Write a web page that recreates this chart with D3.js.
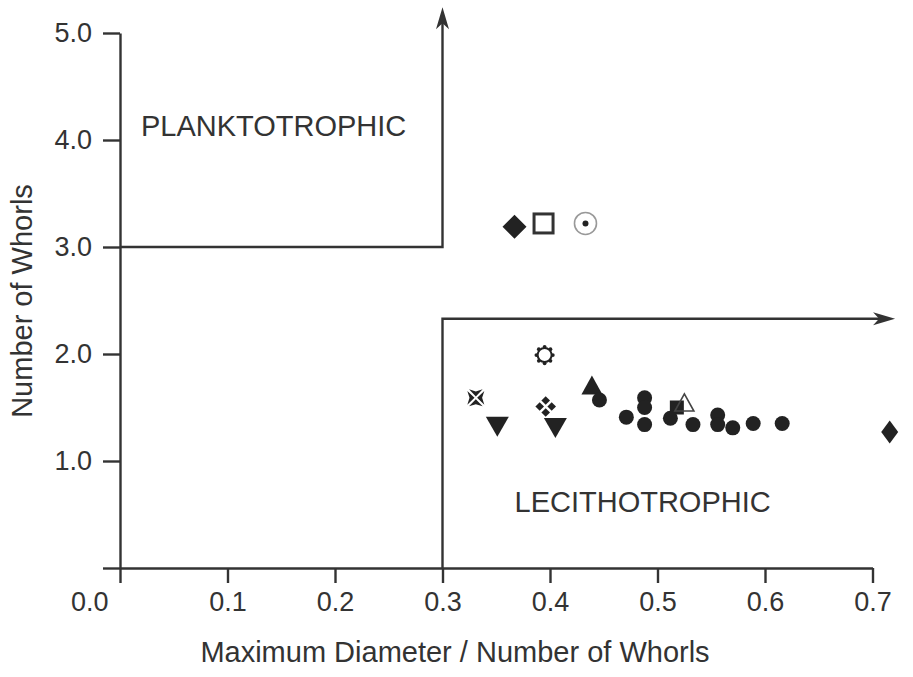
<!DOCTYPE html>
<html>
<head>
<meta charset="utf-8">
<script src="https://cdn.jsdelivr.net/npm/d3@7"></script>
<style>
  body { margin: 0; background: #fff; }
  text { font-family: "Liberation Sans", Arial, sans-serif; fill: #333; }
</style>
</head>
<body>
<div id="chart"></div>
<script>
var width = 913, height = 677;

// data
var xTicks = [0, 0.1, 0.2, 0.3, 0.4, 0.5, 0.6, 0.7];
var yTicks = [0, 1, 2, 3, 4, 5];
var pointX = [0.367, 0.394, 0.433, 0.395, 0.331, 0.351, 0.396, 0.405, 0.439, 0.446,
              0.471, 0.488, 0.488, 0.488, 0.512, 0.518, 0.525, 0.533, 0.556, 0.556,
              0.570, 0.589, 0.616, 0.716];
var pointY = [3.19, 3.22, 3.22, 1.99, 1.59, 1.35, 1.51, 1.34, 1.68, 1.57,
              1.41, 1.59, 1.50, 1.34, 1.40, 1.50, 1.52, 1.34, 1.43, 1.34,
              1.31, 1.35, 1.35, 1.27];
var pointShape = ["diamond", "squareOpen", "circleDot", "sun", "maltese", "triangleDown",
                  "quatrefoil", "triangleDown", "triangle", "circle", "circle", "circle",
                  "circle", "circle", "circle", "square", "triangleOpen", "circle",
                  "circle", "circle", "circle", "circle", "circle", "diamondTall"];
var regionLabels = ["PLANKTOTROPHIC", "LECITHOTROPHIC"];
var regionLabelX = [0.0195, 0.367];
var regionLabelY = [4.04, 0.52];
var xTitle = "Maximum Diameter / Number of Whorls";
var yTitle = "Number of Whorls";

var ink = "#333";

var svg = d3.select("#chart").append("svg")
    .attr("width", width)
    .attr("height", height);

var x = d3.scaleLinear().domain([0, 0.7]).range([120, 872.5]);
var y = d3.scaleLinear().domain([0, 5]).range([568, 33]);

var xAxis = d3.axisBottom(x)
    .tickValues(xTicks)
    .tickSize(15)
    .tickSizeOuter(0)
    .tickPadding(9)
    .tickFormat(d3.format(".1f"));

var yAxis = d3.axisLeft(y)
    .tickValues(yTicks)
    .tickSize(17)
    .tickSizeOuter(0)
    .tickPadding(11)
    .tickFormat(function(d) { return d === 0 ? "" : d3.format(".1f")(d); });

var gx = svg.append("g")
    .attr("transform", "translate(0," + y(0) + ")")
    .call(xAxis);
var gy = svg.append("g")
    .attr("transform", "translate(" + x(0) + ",0)")
    .call(yAxis);

[gx, gy].forEach(function(g) {
  g.selectAll("path, line").attr("stroke", ink).attr("stroke-width", 2.4);
  g.selectAll("text")
    .attr("font-family", "Liberation Sans, Arial, sans-serif")
    .attr("font-size", 27)
    .attr("fill", ink);
});
// the 0.0 label sits left of its tick
gx.selectAll(".tick").filter(function(d) { return d === 0; }).select("text")
    .attr("text-anchor", "end")
    .attr("x", -12);

// region boundaries with arrows
var boundary = svg.append("g")
    .attr("fill", "none")
    .attr("stroke", ink)
    .attr("stroke-width", 2.4);

var topTip = y(5.24), rightTip = x(0.721);
boundary.append("path")
    .attr("d", "M" + x(0) + "," + y(3) + "H" + x(0.3) + "V" + (topTip + 10));
boundary.append("path")
    .attr("d", "M" + x(0.3) + "," + y(0) + "V" + y(2.33) + "H" + (rightTip - 10));

function arrowHead(tx, ty, angle) {
  svg.append("path")
    .attr("d", "M0,0 L-22,-6.5 L-16,0 L-22,6.5 Z")
    .attr("fill", ink)
    .attr("transform", "translate(" + tx + "," + ty + ") rotate(" + angle + ")");
}
arrowHead(x(0.3), topTip, -90);
arrowHead(rightTip, y(2.33), 0);

// region labels
svg.selectAll(".region")
    .data(regionLabels)
    .enter().append("text")
    .attr("class", "region")
    .attr("x", function(d, i) { return x(regionLabelX[i]); })
    .attr("y", function(d, i) { return y(regionLabelY[i]); })
    .attr("font-size", 29)
    .text(function(d) { return d; });

// axis titles
svg.append("text")
    .attr("x", 455)
    .attr("y", 662)
    .attr("text-anchor", "middle")
    .attr("font-size", 29)
    .text(xTitle);
svg.append("text")
    .attr("transform", "translate(32,301) rotate(-90)")
    .attr("text-anchor", "middle")
    .attr("font-size", 29)
    .text(yTitle);

// marker shapes, centred on 0,0
function cross(arm, w, notch) {
  var p = "";
  for (var k = 0; k < 4; k++) {
    var a = k * Math.PI / 2;
    var pts = [[0, -1.3], [-w, -arm], [0, -arm + notch], [w, -arm]];
    p += "M" + pts.map(function(q) {
      var cx = q[0] * Math.cos(a) - q[1] * Math.sin(a);
      var cy = q[0] * Math.sin(a) + q[1] * Math.cos(a);
      return cx.toFixed(2) + "," + cy.toFixed(2);
    }).join("L") + "Z";
  }
  return p;
}

function drawMarker(g, shape) {
  var fill = "#222";
  switch (shape) {
    case "circle":
      g.append("circle").attr("r", 7.5).attr("fill", fill);
      break;
    case "diamond":
      g.append("path").attr("d", "M0,-12L12,0L0,12L-12,0Z").attr("fill", fill);
      break;
    case "diamondTall":
      g.append("path").attr("d", "M0,-11.5L8.5,0L0,11.5L-8.5,0Z").attr("fill", fill);
      break;
    case "square":
      g.append("rect").attr("x", -7).attr("y", -7).attr("width", 14).attr("height", 14)
        .attr("fill", fill);
      break;
    case "squareOpen":
      g.append("rect").attr("x", -9.5).attr("y", -9.5).attr("width", 19).attr("height", 19)
        .attr("fill", "none").attr("stroke", ink).attr("stroke-width", 3);
      break;
    case "triangle":
      g.append("path").attr("d", "M0,-12.7L10.5,6.3L-10.5,6.3Z").attr("fill", fill);
      break;
    case "triangleOpen":
      g.append("path").attr("d", "M0,-11.5L9.5,5.7L-9.5,5.7Z")
        .attr("fill", "none").attr("stroke", "#444").attr("stroke-width", 1.6);
      break;
    case "triangleDown":
      g.append("path").attr("d", "M-11.5,-6.7L11.5,-6.7L0,13.3Z").attr("fill", fill);
      break;
    case "circleDot":
      g.append("circle").attr("r", 11).attr("fill", "none")
        .attr("stroke", "#999").attr("stroke-width", 1.6);
      g.append("circle").attr("r", 3).attr("fill", fill);
      break;
    case "sun":
      d3.range(8).forEach(function(k) {
        var a = k * Math.PI / 4;
        g.append("circle").attr("cx", 8.2 * Math.cos(a)).attr("cy", 8.2 * Math.sin(a))
          .attr("r", 1.9).attr("fill", fill);
      });
      g.append("circle").attr("r", 7).attr("fill", "#fff")
        .attr("stroke", fill).attr("stroke-width", 2);
      break;
    case "maltese":
      g.append("path").attr("d", cross(8.5, 6.8, 2.2)).attr("fill", fill);
      break;
    case "quatrefoil":
      [[0, -6], [6, 0], [0, 6], [-6, 0]].forEach(function(c) {
        g.append("path")
          .attr("d", "M" + c[0] + "," + (c[1] - 4.3) + "L" + (c[0] + 4.3) + "," + c[1] +
                "L" + c[0] + "," + (c[1] + 4.3) + "L" + (c[0] - 4.3) + "," + c[1] + "Z")
          .attr("fill", fill);
      });
      break;
  }
}

var points = svg.append("g").selectAll("g.pt")
    .data(pointShape)
    .enter().append("g")
    .attr("class", "pt")
    .attr("transform", function(d, i) {
      return "translate(" + x(pointX[i]) + "," + y(pointY[i]) + ")";
    });

points.each(function(d) { drawMarker(d3.select(this), d); });
</script>
</body>
</html>
